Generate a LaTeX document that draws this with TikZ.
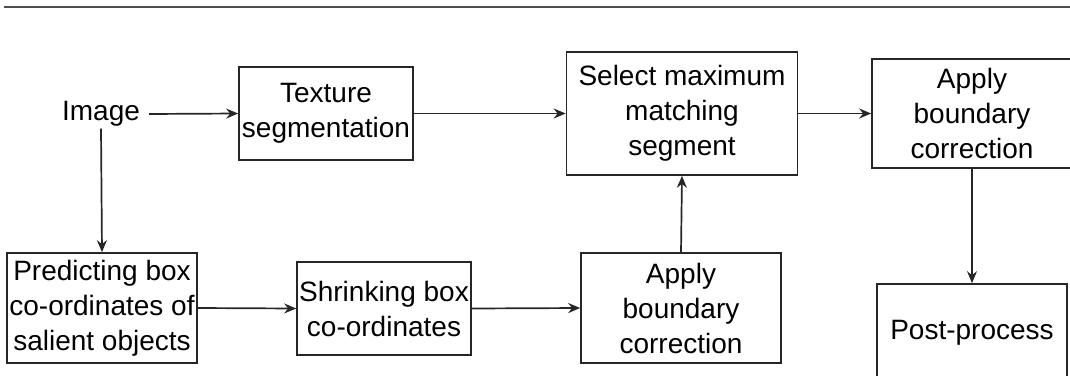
\documentclass[tikz,border=0pt]{standalone}
\usepackage{fontspec}
\setmainfont{Liberation Sans}
\usetikzlibrary{arrows.meta}
\begin{document}
\begin{tikzpicture}[x=1pt,y=-1pt,
  every node/.style={font=\fontsize{28}{35}\selectfont, align=center, inner sep=0pt},
  procbox/.style={draw=black!85, line width=1.7pt, anchor=center},
  link/.style={draw=black!85, line width=1.7pt, -{Stealth[length=12pt,width=10pt,inset=4pt]}}]
  \useasboundingbox (0,0) rectangle (1070,375);
  \clip (0,0) rectangle (1070,375);

  % rule along the top edge
  \draw[line width=2.4pt, black!70] (4,7) -- (1070,7);

  % input label
  \node (img) at (101,114) {Image};

  % upper row
  \node[procbox, minimum width=174pt, minimum height=93pt] (tex) at (326,113.5) {Texture\\segmentation};
  \node[procbox, minimum width=231pt, minimum height=123pt] (sel) at (682,113.5) {Select maximum\\matching\\segment};
  \node[procbox, minimum width=200pt, minimum height=109pt] (abt) at (972,113.5) {Apply\\boundary\\correction};

  % lower row
  \node[procbox, minimum width=190pt, minimum height=110pt] (pred) at (102,308) {Predicting box\\co-ordinates of\\salient objects};
  \node[procbox, minimum width=174pt, minimum height=93pt] (shr) at (384,308.5) {Shrinking box\\co-ordinates};
  \node[procbox, minimum width=200pt, minimum height=110pt] (abb) at (681,308) {Apply\\boundary\\correction};
  \node[procbox, minimum width=190pt, minimum height=98pt] (post) at (972,333) {Post-process};

  % connectors
  \draw[link] (img.east) ++(9pt,0) coordinate (imgout) (imgout) -- (tex.west);
  \draw[link] (tex.east) -- (sel.west);
  \draw[link] (sel.east) -- (abt.west);
  \draw[link] (img.south) ++(0,-2pt) coordinate (imgdown) (imgdown) -- (pred.north);
  \draw[link] (pred.east) -- (shr.west);
  \draw[link] (shr.east) -- (abb.west);
  \draw[link] (abb.north) -- (sel.south);
  \draw[link] (abt.south) -- (post.north);
\end{tikzpicture}
\end{document}
